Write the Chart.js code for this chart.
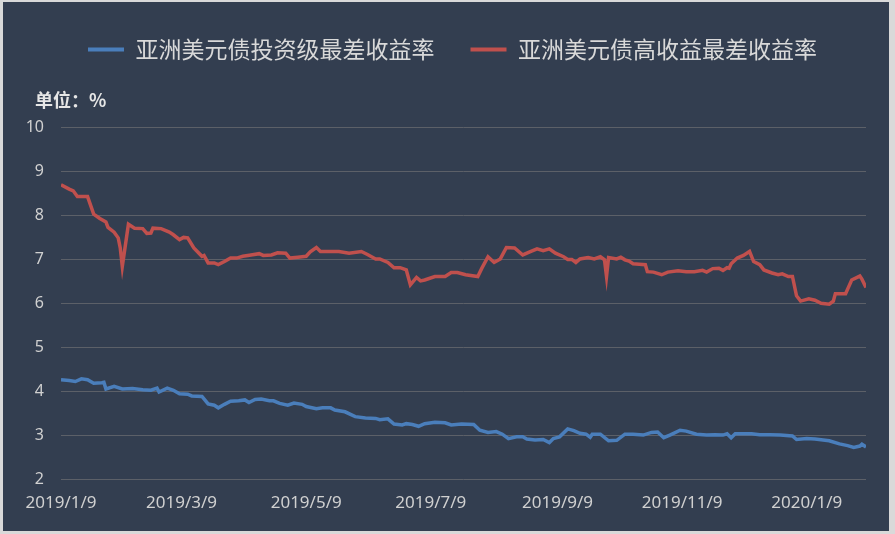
<!DOCTYPE html>
<html lang="zh-CN">
<head>
<meta charset="UTF-8">
<title>亚洲美元债最差收益率</title>
<script src="https://cdn.jsdelivr.net/npm/chart.js@4.4.1/dist/chart.umd.min.js"></script>
<style>
  html, body { margin: 0; padding: 0; background: #d9d9d9; }
  #wrap {
    position: absolute;
    left: 3px;
    top: 2px;
    width: 886px;
    height: 529px;
    background: #333e50;
  }
</style>
</head>
<body>
<div id="wrap"><canvas id="yieldChart" width="886" height="529"></canvas></div>
<script>
// -----------------------------
// Data
// -----------------------------
const igLabel = "亚洲美元债投资级最差收益率";
const hyLabel = "亚洲美元债高收益最差收益率";

const igDates = [
  "2019/1/9", "2019/1/13", "2019/1/16", "2019/1/19", "2019/1/22", "2019/1/25", "2019/1/29", "2019/1/30",
  "2019/1/31", "2019/2/4", "2019/2/8", "2019/2/13", "2019/2/18", "2019/2/22", "2019/2/25", "2019/2/26",
  "2019/3/2", "2019/3/5", "2019/3/8", "2019/3/12", "2019/3/14", "2019/3/19", "2019/3/22", "2019/3/25",
  "2019/3/27", "2019/3/30", "2019/4/2", "2019/4/6", "2019/4/9", "2019/4/11", "2019/4/14", "2019/4/17",
  "2019/4/21", "2019/4/23", "2019/4/26", "2019/4/30", "2019/5/3", "2019/5/7", "2019/5/9", "2019/5/14",
  "2019/5/17", "2019/5/21", "2019/5/23", "2019/5/28", "2019/6/2", "2019/6/7", "2019/6/12", "2019/6/14",
  "2019/6/18", "2019/6/21", "2019/6/25", "2019/6/27", "2019/6/30", "2019/7/3", "2019/7/6", "2019/7/11",
  "2019/7/16", "2019/7/19", "2019/7/24", "2019/7/30", "2019/8/2", "2019/8/6", "2019/8/10", "2019/8/13",
  "2019/8/16", "2019/8/20", "2019/8/23", "2019/8/25", "2019/8/29", "2019/9/2", "2019/9/5", "2019/9/7",
  "2019/9/10", "2019/9/14", "2019/9/17", "2019/9/20", "2019/9/23", "2019/9/25", "2019/9/26", "2019/9/30",
  "2019/10/4", "2019/10/8", "2019/10/12", "2019/10/16", "2019/10/21", "2019/10/25", "2019/10/28", "2019/10/31",
  "2019/11/3", "2019/11/8", "2019/11/11", "2019/11/16", "2019/11/21", "2019/11/25", "2019/11/29", "2019/12/1",
  "2019/12/3", "2019/12/5", "2019/12/9", "2019/12/13", "2019/12/17", "2019/12/22", "2019/12/27", "2020/1/2",
  "2020/1/4", "2020/1/9", "2020/1/13", "2020/1/17", "2020/1/20", "2020/1/25", "2020/1/29", "2020/2/1",
  "2020/2/4", "2020/2/5", "2020/2/7"
];
const igValues = [
  4.26, 4.24, 4.22, 4.28, 4.26, 4.18, 4.19, 4.20,
  4.05, 4.11, 4.05, 4.06, 4.03, 4.02, 4.07, 3.98,
  4.07, 4.02, 3.94, 3.93, 3.89, 3.88, 3.71, 3.68,
  3.62, 3.70, 3.77, 3.78, 3.80, 3.74, 3.81, 3.82,
  3.78, 3.78, 3.72, 3.68, 3.73, 3.70, 3.65, 3.60,
  3.62, 3.62, 3.57, 3.53, 3.42, 3.39, 3.38, 3.35,
  3.37, 3.25, 3.23, 3.26, 3.24, 3.20, 3.26, 3.29,
  3.28, 3.23, 3.25, 3.24, 3.11, 3.06, 3.08, 3.02,
  2.92, 2.96, 2.96, 2.91, 2.89, 2.90, 2.83, 2.92,
  2.96, 3.14, 3.10, 3.04, 3.02, 2.95, 3.02, 3.02,
  2.87, 2.88, 3.02, 3.02, 3.00, 3.06, 3.07, 2.94,
  3.00, 3.11, 3.09, 3.02, 3.00, 3.01, 3.00, 3.03,
  2.94, 3.03, 3.03, 3.03, 3.01, 3.01, 3.00, 2.98,
  2.90, 2.92, 2.91, 2.89, 2.87, 2.80, 2.76, 2.72,
  2.75, 2.79, 2.73
];

const hyDates = [
  "2019/1/9", "2019/1/13", "2019/1/15", "2019/1/17", "2019/1/22", "2019/1/25", "2019/1/28", "2019/1/31",
  "2019/2/1", "2019/2/4", "2019/2/6", "2019/2/7", "2019/2/8", "2019/2/11", "2019/2/14", "2019/2/18",
  "2019/2/20", "2019/2/22", "2019/2/23", "2019/2/27", "2019/3/3", "2019/3/5", "2019/3/8", "2019/3/10",
  "2019/3/12", "2019/3/15", "2019/3/19", "2019/3/20", "2019/3/22", "2019/3/25", "2019/3/27", "2019/3/30",
  "2019/4/2", "2019/4/5", "2019/4/8", "2019/4/12", "2019/4/16", "2019/4/18", "2019/4/22", "2019/4/25",
  "2019/4/29", "2019/5/1", "2019/5/5", "2019/5/9", "2019/5/11", "2019/5/14", "2019/5/16", "2019/5/21",
  "2019/5/25", "2019/5/30", "2019/6/5", "2019/6/8", "2019/6/12", "2019/6/14", "2019/6/18", "2019/6/21",
  "2019/6/24", "2019/6/27", "2019/6/29", "2019/7/2", "2019/7/4", "2019/7/6", "2019/7/11", "2019/7/16",
  "2019/7/19", "2019/7/22", "2019/7/26", "2019/8/1", "2019/8/3", "2019/8/6", "2019/8/9", "2019/8/12",
  "2019/8/15", "2019/8/19", "2019/8/23", "2019/8/27", "2019/8/30", "2019/9/2", "2019/9/5", "2019/9/8",
  "2019/9/12", "2019/9/14", "2019/9/16", "2019/9/18", "2019/9/20", "2019/9/24", "2019/9/27", "2019/9/30",
  "2019/10/2", "2019/10/3", "2019/10/4", "2019/10/8", "2019/10/10", "2019/10/12", "2019/10/14", "2019/10/16",
  "2019/10/19", "2019/10/22", "2019/10/23", "2019/10/26", "2019/10/30", "2019/11/2", "2019/11/7", "2019/11/11",
  "2019/11/15", "2019/11/19", "2019/11/21", "2019/11/24", "2019/11/27", "2019/11/29", "2019/12/1", "2019/12/2",
  "2019/12/3", "2019/12/6", "2019/12/9", "2019/12/12", "2019/12/14", "2019/12/17", "2019/12/19", "2019/12/23",
  "2019/12/26", "2019/12/28", "2019/12/31", "2020/1/2", "2020/1/4", "2020/1/6", "2020/1/10", "2020/1/13",
  "2020/1/16", "2020/1/20", "2020/1/22", "2020/1/23", "2020/1/28", "2020/1/31", "2020/2/4", "2020/2/5",
  "2020/2/7"
];
const hyValues = [
  8.70, 8.60, 8.56, 8.43, 8.43, 8.03, 7.93, 7.85,
  7.73, 7.62, 7.49, 7.26, 6.84, 7.80, 7.71, 7.70,
  7.59, 7.60, 7.71, 7.70, 7.62, 7.56, 7.45, 7.50,
  7.49, 7.26, 7.07, 7.09, 6.92, 6.92, 6.88, 6.95,
  7.03, 7.03, 7.07, 7.10, 7.13, 7.09, 7.10, 7.15,
  7.14, 7.03, 7.05, 7.07, 7.17, 7.27, 7.18, 7.18,
  7.18, 7.14, 7.18, 7.11, 7.01, 7.01, 6.93, 6.81,
  6.81, 6.76, 6.42, 6.59, 6.51, 6.53, 6.61, 6.61,
  6.70, 6.70, 6.65, 6.61, 6.80, 7.06, 6.93, 7.01,
  7.27, 7.26, 7.10, 7.18, 7.24, 7.20, 7.24, 7.14,
  7.06, 7.00, 7.00, 6.93, 7.01, 7.04, 7.01, 7.06,
  6.99, 6.61, 7.04, 7.01, 7.05, 6.99, 6.96, 6.90,
  6.89, 6.88, 6.72, 6.71, 6.65, 6.71, 6.74, 6.72,
  6.72, 6.75, 6.71, 6.79, 6.80, 6.75, 6.81, 6.80,
  6.90, 7.03, 7.09, 7.18, 6.95, 6.88, 6.76, 6.69,
  6.65, 6.67, 6.61, 6.61, 6.17, 6.05, 6.10, 6.07,
  6.00, 5.98, 6.05, 6.22, 6.22, 6.53, 6.62, 6.55,
  6.36
];

const xTickDates = ["2019/1/9", "2019/3/9", "2019/5/9", "2019/7/9", "2019/9/9", "2019/11/9", "2020/1/9"];
const xEndDate = "2020/2/7";
const yMin = 2;
const yMax = 10;

// -----------------------------
// Helpers: dates <-> day numbers
// -----------------------------
const DAY = 86400000;
function toUTC(s) {
  const [y, m, d] = s.split("/").map(Number);
  return Date.UTC(y, m - 1, d);
}
const startUTC = toUTC(xTickDates[0]);
const toDay = (s) => (toUTC(s) - startUTC) / DAY;
function dayToLabel(v) {
  const d = new Date(startUTC + v * DAY);
  return `${d.getUTCFullYear()}/${d.getUTCMonth() + 1}/${d.getUTCDate()}`;
}
const toPoints = (dates, values) => dates.map((s, i) => ({ x: toDay(s), y: values[i] }));

// nudge the title ("单位") and legend to where the original puts them
const boxShift = {
  id: "boxShift",
  afterLayout(chart) {
    if (chart.titleBlock) chart.titleBlock.left = 32;
    if (chart.legend) {
      chart.legend.left += 11;
      chart.legend.right += 11;
    }
  },
};

// -----------------------------
// Chart
// -----------------------------
const textColor = "#d0d0d0";
const cjkFont = "'Noto Sans CJK SC', 'Noto Sans', sans-serif";

const ctx = document.getElementById("yieldChart").getContext("2d");
new Chart(ctx, {
  type: "line",
  data: {
    datasets: [
      {
        label: igLabel,
        data: toPoints(igDates, igValues),
        borderColor: "#4a7ebb",
        backgroundColor: "#4a7ebb",
        borderWidth: 3.5,
        pointRadius: 0,
        tension: 0,
      },
      {
        label: hyLabel,
        data: toPoints(hyDates, hyValues),
        borderColor: "#c0504d",
        backgroundColor: "#c0504d",
        borderWidth: 3.5,
        pointRadius: 0,
        tension: 0,
      },
    ],
  },
  plugins: [boxShift],
  options: {
    responsive: false,
    animation: false,
    layout: { padding: { left: 14, right: 23, top: 0, bottom: 0 } },
    plugins: {
      tooltip: { enabled: false },
      legend: {
        position: "top",
        labels: {
          boxWidth: 36,
          boxHeight: 4,
          padding: 36,
          color: "#d9d9d9",
          font: { family: cjkFont, size: 23 },
          generateLabels: (chart) =>
            Chart.defaults.plugins.legend.labels
              .generateLabels(chart)
              .map((item) => ({ ...item, lineWidth: 0, fillStyle: item.strokeStyle })),
        },
      },
      title: {
        display: true,
        text: "单位：%",
        align: "start",
        weight: 500, // below the legend
        color: "#e6e6e6",
        font: { family: cjkFont, size: 18, weight: "bold" },
        padding: { top: 18, bottom: 17 },
      },
    },
    scales: {
      x: {
        type: "linear",
        min: 0,
        max: toDay(xEndDate),
        grid: { display: false },
        border: { display: false },
        afterBuildTicks: (scale) => {
          scale.ticks = xTickDates.map((s) => ({ value: toDay(s) }));
        },
        afterFit: (scale) => {
          scale.height = 52;
        },
        ticks: {
          autoSkip: false,
          maxRotation: 0,
          padding: 6,
          color: textColor,
          font: { family: "'Noto Sans', sans-serif", size: 17 },
          callback: (v) => dayToLabel(v),
        },
      },
      y: {
        min: yMin,
        max: yMax,
        grid: { color: "#5c6068", lineWidth: 1, drawTicks: false },
        border: { display: false },
        afterFit: (scale) => {
          scale.width = 44;
        },
        ticks: {
          stepSize: 1,
          padding: 17,
          color: textColor,
          font: { family: "'Noto Sans', sans-serif", size: 16 },
        },
      },
    },
  },
});
</script>
</body>
</html>
